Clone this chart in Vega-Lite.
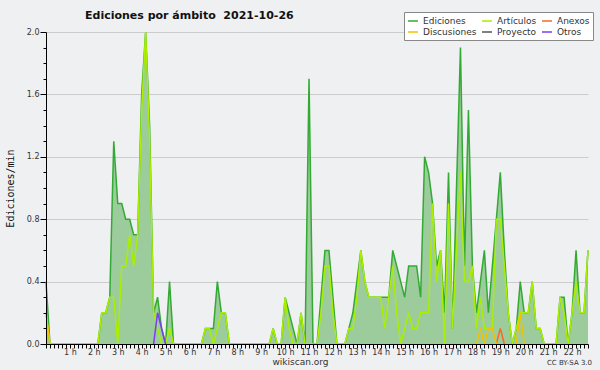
{
  "$schema": "https://vega.github.io/schema/vega-lite/v6.json",
  "autosize": "none",
  "width": 542,
  "height": 312,
  "padding": {"left": 46, "top": 32, "right": 12, "bottom": 26},
  "background": "#eff0f1",
  "title": {"text": "Ediciones por ámbito\u00a0 2021-10-26", "anchor": "start", "frame": "group", "dx": 39, "offset": 0, "dy": 18, "baseline": "alphabetic", "font": "DejaVu Sans", "fontSize": 11, "fontWeight": "bold", "color": "#111111"},
  "config": {"view": {"stroke": null},
    "legend": {"orient": "none", "legendX": 358, "legendY": -20, "columns": 3, "direction": "horizontal",
      "symbolType": "stroke", "symbolSize": 100, "symbolStrokeWidth": 1.5, "labelOffset": 4,
      "labelFont": "DejaVu Sans", "labelFontSize": 9, "labelColor": "#333333",
      "fillColor": "#ffffff", "strokeColor": "#888888", "padding": 3, "rowPadding": 0, "columnPadding": 2}},
  "data": {"values": [
    {"m":0,"Ediciones":0.4,"Artículos":0.2,"Discusiones":0.2},
    {"m":10,"Ediciones":0,"Artículos":0,"Discusiones":0},
    {"m":20,"Ediciones":0,"Artículos":0},
    {"m":30,"Ediciones":0,"Artículos":0},
    {"m":40,"Ediciones":0,"Artículos":0},
    {"m":50,"Ediciones":0,"Artículos":0},
    {"m":60,"Ediciones":0,"Artículos":0},
    {"m":70,"Ediciones":0,"Artículos":0},
    {"m":80,"Ediciones":0,"Artículos":0},
    {"m":90,"Ediciones":0,"Artículos":0},
    {"m":100,"Ediciones":0,"Artículos":0},
    {"m":110,"Ediciones":0,"Artículos":0},
    {"m":120,"Ediciones":0,"Artículos":0},
    {"m":130,"Ediciones":0,"Artículos":0},
    {"m":140,"Ediciones":0.2,"Artículos":0.2},
    {"m":150,"Ediciones":0.2,"Artículos":0.2},
    {"m":160,"Ediciones":0.3,"Artículos":0.3},
    {"m":170,"Ediciones":1.3,"Artículos":0.3},
    {"m":180,"Ediciones":0.9,"Artículos":0},
    {"m":190,"Ediciones":0.9,"Artículos":0.5},
    {"m":200,"Ediciones":0.8,"Artículos":0.5},
    {"m":210,"Ediciones":0.8,"Artículos":0.7},
    {"m":220,"Ediciones":0.7,"Artículos":0.5},
    {"m":230,"Ediciones":0.7,"Artículos":0.7},
    {"m":240,"Ediciones":1.6,"Artículos":1.5},
    {"m":250,"Ediciones":2.0,"Artículos":2.0},
    {"m":260,"Ediciones":1.4,"Artículos":1.3},
    {"m":270,"Ediciones":0.2,"Artículos":0.2,"Otros":0},
    {"m":280,"Ediciones":0.3,"Artículos":0.1,"Otros":0.2},
    {"m":290,"Ediciones":0.1,"Artículos":0,"Otros":0.1},
    {"m":300,"Ediciones":0,"Artículos":0,"Otros":0},
    {"m":310,"Ediciones":0.4,"Artículos":0.1},
    {"m":320,"Ediciones":0,"Artículos":0},
    {"m":330,"Ediciones":0,"Artículos":0},
    {"m":340,"Ediciones":0,"Artículos":0},
    {"m":350,"Ediciones":0,"Artículos":0},
    {"m":360,"Ediciones":0,"Artículos":0},
    {"m":370,"Ediciones":0,"Artículos":0},
    {"m":380,"Ediciones":0,"Artículos":0},
    {"m":390,"Ediciones":0,"Artículos":0},
    {"m":400,"Ediciones":0.1,"Artículos":0.1},
    {"m":410,"Ediciones":0.1,"Artículos":0.1},
    {"m":420,"Ediciones":0.1,"Artículos":0},
    {"m":430,"Ediciones":0.4,"Artículos":0.1},
    {"m":440,"Ediciones":0.2,"Artículos":0.2},
    {"m":450,"Ediciones":0.2,"Artículos":0.2},
    {"m":460,"Ediciones":0,"Artículos":0},
    {"m":470,"Ediciones":0,"Artículos":0},
    {"m":480,"Ediciones":0,"Artículos":0},
    {"m":490,"Ediciones":0,"Artículos":0},
    {"m":500,"Ediciones":0,"Artículos":0},
    {"m":510,"Ediciones":0,"Artículos":0},
    {"m":520,"Ediciones":0,"Artículos":0},
    {"m":530,"Ediciones":0,"Artículos":0},
    {"m":540,"Ediciones":0,"Artículos":0},
    {"m":550,"Ediciones":0,"Artículos":0},
    {"m":560,"Ediciones":0,"Artículos":0},
    {"m":570,"Ediciones":0.1,"Artículos":0.1},
    {"m":580,"Ediciones":0,"Artículos":0},
    {"m":590,"Ediciones":0,"Artículos":0},
    {"m":600,"Ediciones":0.3,"Artículos":0.3},
    {"m":610,"Ediciones":0.2,"Artículos":0.1},
    {"m":620,"Ediciones":0.1,"Artículos":0},
    {"m":630,"Ediciones":0,"Artículos":0},
    {"m":640,"Ediciones":0.2,"Artículos":0.2},
    {"m":650,"Ediciones":0,"Artículos":0},
    {"m":660,"Ediciones":1.7,"Artículos":0},
    {"m":670,"Ediciones":0,"Artículos":0},
    {"m":680,"Ediciones":0,"Artículos":0},
    {"m":690,"Ediciones":0.3,"Artículos":0.2},
    {"m":700,"Ediciones":0.6,"Artículos":0.5},
    {"m":710,"Ediciones":0.6,"Artículos":0.5},
    {"m":720,"Ediciones":0.3,"Artículos":0.2},
    {"m":730,"Ediciones":0,"Artículos":0},
    {"m":740,"Ediciones":0,"Artículos":0},
    {"m":750,"Ediciones":0,"Artículos":0},
    {"m":760,"Ediciones":0.1,"Artículos":0.1},
    {"m":770,"Ediciones":0.2,"Artículos":0.1},
    {"m":780,"Ediciones":0.4,"Artículos":0.3},
    {"m":790,"Ediciones":0.6,"Artículos":0.6},
    {"m":800,"Ediciones":0.4,"Artículos":0.4},
    {"m":810,"Ediciones":0.3,"Artículos":0.3},
    {"m":820,"Ediciones":0.3,"Artículos":0.3},
    {"m":830,"Ediciones":0.3,"Artículos":0.3},
    {"m":840,"Ediciones":0.3,"Artículos":0.3},
    {"m":850,"Ediciones":0.3,"Artículos":0.1},
    {"m":860,"Ediciones":0.3,"Artículos":0.3},
    {"m":870,"Ediciones":0.6,"Artículos":0.5},
    {"m":880,"Ediciones":0.5,"Artículos":0.2},
    {"m":890,"Ediciones":0.4,"Artículos":0},
    {"m":900,"Ediciones":0.3,"Artículos":0.1},
    {"m":910,"Ediciones":0.5,"Artículos":0.2},
    {"m":920,"Ediciones":0.5,"Artículos":0.1},
    {"m":930,"Ediciones":0.5,"Artículos":0.1},
    {"m":940,"Ediciones":0.3,"Artículos":0.2},
    {"m":950,"Ediciones":1.2,"Artículos":0.2},
    {"m":960,"Ediciones":1.1,"Artículos":0.2},
    {"m":970,"Ediciones":0.9,"Artículos":0.9},
    {"m":980,"Ediciones":0.5,"Artículos":0.4},
    {"m":990,"Ediciones":0.6,"Artículos":0.6},
    {"m":1000,"Ediciones":0.2,"Artículos":0},
    {"m":1010,"Ediciones":1.1,"Artículos":0.9},
    {"m":1020,"Ediciones":0.1,"Artículos":0.1},
    {"m":1030,"Ediciones":1.0,"Artículos":0.6},
    {"m":1040,"Ediciones":1.9,"Artículos":1.1},
    {"m":1050,"Ediciones":0.5,"Artículos":0.4},
    {"m":1060,"Ediciones":1.5,"Artículos":0.4},
    {"m":1070,"Ediciones":0.5,"Artículos":0.5},
    {"m":1080,"Ediciones":0.2,"Artículos":0.1,"Discusiones":0},
    {"m":1090,"Ediciones":0.4,"Artículos":0.3,"Discusiones":0.1},
    {"m":1100,"Ediciones":0.6,"Artículos":0.1,"Discusiones":0},
    {"m":1110,"Ediciones":0.2,"Artículos":0.1,"Discusiones":0.1},
    {"m":1120,"Ediciones":0.5,"Artículos":0.1,"Discusiones":0.1},
    {"m":1130,"Ediciones":0.8,"Artículos":0.8,"Discusiones":0,"Anexos":0},
    {"m":1140,"Ediciones":1.1,"Artículos":0.8,"Anexos":0.1},
    {"m":1150,"Ediciones":0.6,"Artículos":0.5,"Anexos":0},
    {"m":1160,"Ediciones":0.2,"Artículos":0.2},
    {"m":1170,"Ediciones":0,"Artículos":0},
    {"m":1180,"Ediciones":0.1,"Artículos":0.1,"Discusiones":0},
    {"m":1190,"Ediciones":0.4,"Artículos":0.2,"Discusiones":0.2},
    {"m":1200,"Ediciones":0.2,"Artículos":0.2,"Discusiones":0},
    {"m":1210,"Ediciones":0.2,"Artículos":0.2},
    {"m":1220,"Ediciones":0.4,"Artículos":0.4},
    {"m":1230,"Ediciones":0.1,"Artículos":0.1},
    {"m":1240,"Ediciones":0.1,"Artículos":0.1},
    {"m":1250,"Ediciones":0,"Artículos":0},
    {"m":1260,"Ediciones":0,"Artículos":0},
    {"m":1270,"Ediciones":0,"Artículos":0},
    {"m":1280,"Ediciones":0,"Artículos":0},
    {"m":1290,"Ediciones":0.3,"Artículos":0.3},
    {"m":1300,"Ediciones":0.3,"Artículos":0.2},
    {"m":1310,"Ediciones":0,"Artículos":0},
    {"m":1320,"Ediciones":0.2,"Artículos":0.2},
    {"m":1330,"Ediciones":0.6,"Artículos":0.4},
    {"m":1340,"Ediciones":0.2,"Artículos":0.2},
    {"m":1350,"Ediciones":0.2,"Artículos":0.2},
    {"m":1360,"Ediciones":0.6,"Artículos":0.6}
  ]},
  "resolve": {"axis": {"x": "independent", "y": "independent"}},
  "layer": [
    {
      "mark": {"type": "area", "color": "#9ccc9c", "opacity": 1},
      "encoding": {
        "x": {"field": "m", "type": "quantitative", "scale": {"domain": [0, 1360], "nice": false, "zero": false},
          "axis": {"orient": "bottom", "values": [0,10,20,30,40,50,60,70,80,90,100,110,120,130,140,150,160,170,180,190,200,210,220,230,240,250,260,270,280,290,300,310,320,330,340,350,360,370,380,390,400,410,420,430,440,450,460,470,480,490,500,510,520,530,540,550,560,570,580,590,600,610,620,630,640,650,660,670,680,690,700,710,720,730,740,750,760,770,780,790,800,810,820,830,840,850,860,870,880,890,900,910,920,930,940,950,960,970,980,990,1000,1010,1020,1030,1040,1050,1060,1070,1080,1090,1100,1110,1120,1130,1140,1150,1160,1170,1180,1190,1200,1210,1220,1230,1240,1250,1260,1270,1280,1290,1300,1310,1320,1330,1340,1350,1360],
            "labelExpr": "datum.value % 60 === 0 && datum.value > 0 ? (datum.value / 60) + ' h' : ''",
            "labelOverlap": false, "labelAlign": "center", "labelDx": -4, "labelPadding": 0,
            "labelFont": "DejaVu Sans", "labelFontSize": 8, "labelColor": "#333333",
            "tickSize": 4, "tickColor": "#000000", "domainColor": "#000000", "grid": false, "zindex": 1,
            "title": "wikiscan.org", "titleX": 254, "titleY": 17, "titleBaseline": "middle", "titleAlign": "center",
            "titleFont": "DejaVu Sans", "titleFontSize": 9, "titleFontWeight": "normal", "titleColor": "#333333"}},
        "y": {"field": "Ediciones", "type": "quantitative", "scale": {"domain": [0, 2], "nice": false},
          "axis": {"orient": "left", "values": [0, 0.4, 0.8, 1.2, 1.6, 2.0], "format": ".1f", "grid": true, "gridColor": "#cccccc",
            "tickSize": 6, "tickColor": "#000000", "domain": false, "labelPadding": 1,
            "labelFont": "DejaVu Sans", "labelFontSize": 8, "labelColor": "#333333", "zindex": 0,
            "title": "Ediciones/min", "titleX": -36, "titleY": 156, "titleAngle": -90, "titleAlign": "center", "titleBaseline": "middle",
            "titleFont": "DejaVu Sans Mono", "titleFontSize": 10, "titleFontWeight": "normal", "titleColor": "#111111"}}
      }
    },
    {
      "mark": {"type": "line", "strokeWidth": 1.5},
      "encoding": {
        "x": {"field": "m", "type": "quantitative", "axis": null},
        "y": {"field": "Ediciones", "type": "quantitative",
          "axis": {"orient": "left", "values": [0.1,0.2,0.3,0.5,0.6,0.7,0.9,1.0,1.1,1.3,1.4,1.5,1.7,1.8,1.9], "labels": false, "grid": false,
            "tickSize": 3, "tickColor": "#000000", "domain": true, "domainColor": "#000000", "zindex": 1,
            "title": "CC BY-SA 3.0", "titleX": 523, "titleY": 330, "titleAngle": 0, "titleAlign": "center", "titleBaseline": "middle",
            "titleFont": "DejaVu Sans", "titleFontSize": 7, "titleFontWeight": "normal", "titleColor": "#333333"}},
        "color": {"datum": "Ediciones", "type": "nominal",
          "scale": {"domain": ["Ediciones", "Artículos", "Anexos", "Discusiones", "Proyecto", "Otros"],
                    "range": ["#33aa33", "#aaee00", "#ff6622", "#f5c000", "#555555", "#7a3ef0"]},
          "legend": {"title": null, "direction": "horizontal", "columns": 3}}
      }
    },
    {
      "transform": [{"fold": ["Artículos", "Anexos", "Discusiones", "Otros"], "as": ["serie", "v"]}],
      "mark": {"type": "line", "strokeWidth": 1.5},
      "encoding": {
        "x": {"field": "m", "type": "quantitative", "axis": null},
        "y": {"field": "v", "type": "quantitative", "axis": null},
        "color": {"field": "serie", "type": "nominal", "legend": {"title": null, "direction": "horizontal", "columns": 3}}
      }
    }
  ]
}
